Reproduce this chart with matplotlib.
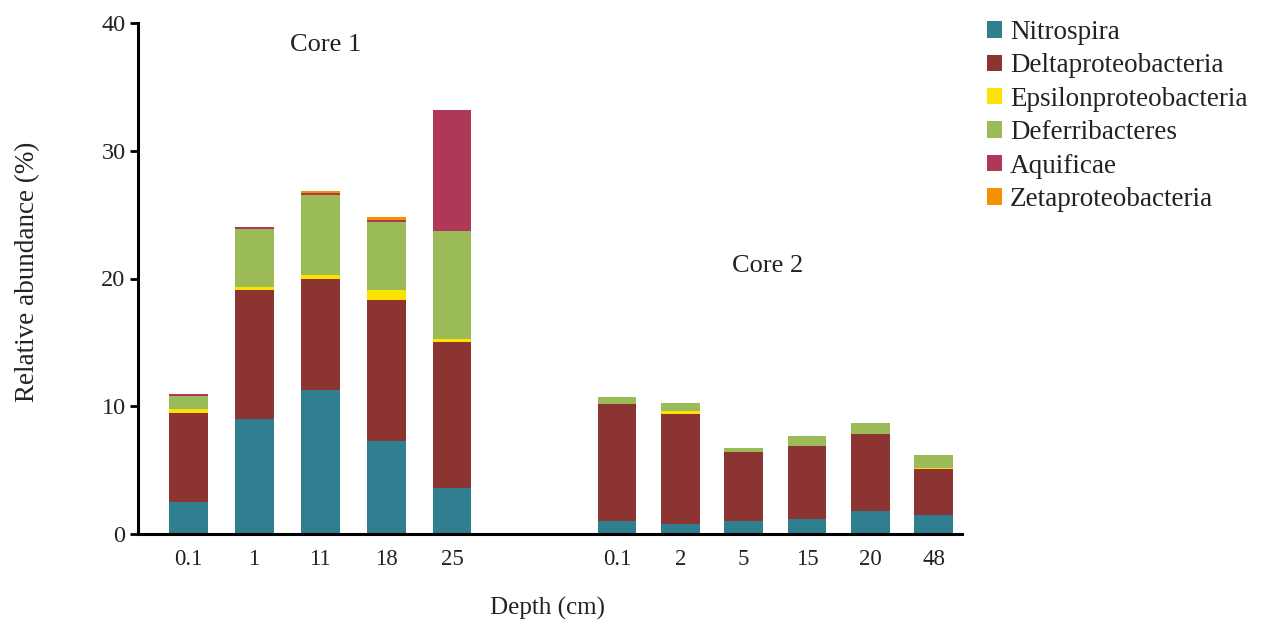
import numpy as np
import matplotlib
matplotlib.use("Agg")
import matplotlib.pyplot as plt
from matplotlib.patches import Patch

plt.rcParams['font.family'] = ['Liberation Serif', 'DejaVu Serif']

# Depth labels for the two cores
core1_depths = ["0.1", "1", "11", "18", "25"]
core2_depths = ["0.1", "2", "5", "15", "20", "48"]

groups = ["Nitrospira", "Deltaproteobacteria", "Epsilonproteobacteria",
          "Deferribacteres", "Aquificae", "Zetaproteobacteria"]
colors = ["#307f91", "#8b3432", "#fde100", "#9bbb59", "#ae3856", "#f39200"]

# Relative abundance (%) per group, core 1
core1_nitrospira = [2.5, 9.0, 11.3, 7.3, 3.6]
core1_delta = [7.0, 10.1, 8.7, 11.0, 11.4]
core1_epsilon = [0.3, 0.2, 0.3, 0.8, 0.3]
core1_deferri = [1.0, 4.6, 6.2, 5.3, 8.4]
core1_aquificae = [0.15, 0.15, 0.2, 0.15, 9.5]
core1_zeta = [0.0, 0.0, 0.15, 0.3, 0.0]

# Relative abundance (%) per group, core 2
core2_nitrospira = [1.0, 0.8, 1.0, 1.2, 1.8, 1.5]
core2_delta = [9.2, 8.6, 5.4, 5.7, 6.0, 3.6]
core2_epsilon = [0.0, 0.2, 0.0, 0.0, 0.0, 0.1]
core2_deferri = [0.5, 0.65, 0.3, 0.8, 0.85, 1.0]
core2_aquificae = [0.0, 0.0, 0.0, 0.0, 0.0, 0.0]
core2_zeta = [0.0, 0.0, 0.0, 0.0, 0.0, 0.0]

core1 = [core1_nitrospira, core1_delta, core1_epsilon,
         core1_deferri, core1_aquificae, core1_zeta]
core2 = [core2_nitrospira, core2_delta, core2_epsilon,
         core2_deferri, core2_aquificae, core2_zeta]

x1 = np.arange(len(core1_depths))
x2 = 6.5 + np.arange(len(core2_depths)) * 0.96
width = 0.59

fig = plt.figure(figsize=(12.61, 6.25), dpi=100)
ax = fig.add_axes([138 / 1261, 91 / 625, 824 / 1261, 511 / 625])

for x, data in ((x1, core1), (x2, core2)):
    bottom = np.zeros(len(x))
    for vals, c in zip(data, colors):
        vals = np.array(vals)
        ax.bar(x, vals, width, bottom=bottom, color=c, linewidth=0)
        bottom += vals

ax.set_xlim(-0.76, 11.73)
ax.set_ylim(0, 40)
ax.set_yticks([0, 10, 20, 30, 40])
ax.set_xticks(np.concatenate([x1, x2]))
ax.set_xticklabels(core1_depths + core2_depths)

for s in ("top", "right"):
    ax.spines[s].set_visible(False)
ax.spines["left"].set_linewidth(2.2)
ax.spines["bottom"].set_linewidth(2.2)
ax.tick_params(axis="y", direction="out", length=6, width=2, labelsize=17.5, pad=3,
               labelcolor="#222222")
ax.tick_params(axis="x", length=0, labelsize=16.5, pad=11, labelcolor="#222222")

fig.text(28 / 1261, 1 - 272 / 625, "Relative abundance (%)", fontsize=19.5,
         rotation=90, ha="center", va="center", color="#222222")
fig.text(547 / 1261, 1 - 608 / 625, "Depth (cm)", fontsize=18, ha="center",
         va="center", color="#222222")

ax.text(326 / 1261, 1 - 45 / 625, "Core 1", transform=fig.transFigure,
        fontsize=19, ha="center", va="center", color="#222222")
ax.text(768 / 1261, 1 - 266 / 625, "Core 2", transform=fig.transFigure,
        fontsize=19, ha="center", va="center", color="#222222")

handles = [Patch(facecolor=c, edgecolor="none") for c in colors]
leg = fig.legend(handles, groups, loc="upper left",
                 bbox_to_anchor=(987 / 1261, 1 - 20 / 625),
                 frameon=False, fontsize=19.5, handlelength=0.55, handleheight=0.55,
                 handletextpad=0.3, labelspacing=0.31, borderaxespad=0, borderpad=0)
for t in leg.get_texts():
    t.set_color("#222222")

fig.savefig("out.png", dpi=100)
